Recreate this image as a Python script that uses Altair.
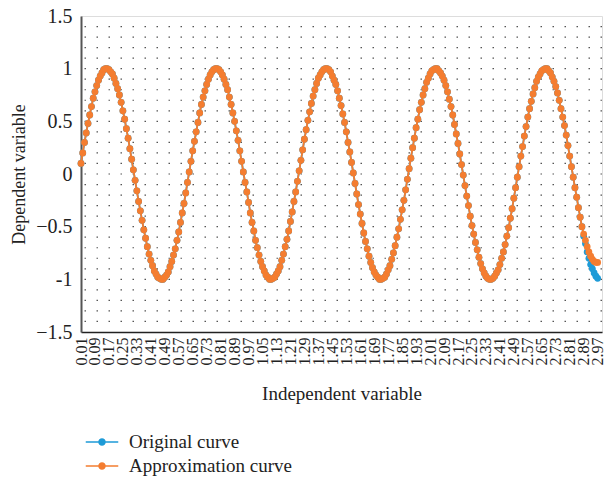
import altair as alt
import pandas as pd

# Independent variable (categories)
X_VALUES = [
    0.01, 0.02, 0.03, 0.04, 0.05, 0.06, 0.07, 0.08, 0.09, 0.10,
    0.11, 0.12, 0.13, 0.14, 0.15, 0.16, 0.17, 0.18, 0.19, 0.20,
    0.21, 0.22, 0.23, 0.24, 0.25, 0.26, 0.27, 0.28, 0.29, 0.30,
    0.31, 0.32, 0.33, 0.34, 0.35, 0.36, 0.37, 0.38, 0.39, 0.40,
    0.41, 0.42, 0.43, 0.44, 0.45, 0.46, 0.47, 0.48, 0.49, 0.50,
    0.51, 0.52, 0.53, 0.54, 0.55, 0.56, 0.57, 0.58, 0.59, 0.60,
    0.61, 0.62, 0.63, 0.64, 0.65, 0.66, 0.67, 0.68, 0.69, 0.70,
    0.71, 0.72, 0.73, 0.74, 0.75, 0.76, 0.77, 0.78, 0.79, 0.80,
    0.81, 0.82, 0.83, 0.84, 0.85, 0.86, 0.87, 0.88, 0.89, 0.90,
    0.91, 0.92, 0.93, 0.94, 0.95, 0.96, 0.97, 0.98, 0.99, 1.00,
    1.01, 1.02, 1.03, 1.04, 1.05, 1.06, 1.07, 1.08, 1.09, 1.10,
    1.11, 1.12, 1.13, 1.14, 1.15, 1.16, 1.17, 1.18, 1.19, 1.20,
    1.21, 1.22, 1.23, 1.24, 1.25, 1.26, 1.27, 1.28, 1.29, 1.30,
    1.31, 1.32, 1.33, 1.34, 1.35, 1.36, 1.37, 1.38, 1.39, 1.40,
    1.41, 1.42, 1.43, 1.44, 1.45, 1.46, 1.47, 1.48, 1.49, 1.50,
    1.51, 1.52, 1.53, 1.54, 1.55, 1.56, 1.57, 1.58, 1.59, 1.60,
    1.61, 1.62, 1.63, 1.64, 1.65, 1.66, 1.67, 1.68, 1.69, 1.70,
    1.71, 1.72, 1.73, 1.74, 1.75, 1.76, 1.77, 1.78, 1.79, 1.80,
    1.81, 1.82, 1.83, 1.84, 1.85, 1.86, 1.87, 1.88, 1.89, 1.90,
    1.91, 1.92, 1.93, 1.94, 1.95, 1.96, 1.97, 1.98, 1.99, 2.00,
    2.01, 2.02, 2.03, 2.04, 2.05, 2.06, 2.07, 2.08, 2.09, 2.10,
    2.11, 2.12, 2.13, 2.14, 2.15, 2.16, 2.17, 2.18, 2.19, 2.20,
    2.21, 2.22, 2.23, 2.24, 2.25, 2.26, 2.27, 2.28, 2.29, 2.30,
    2.31, 2.32, 2.33, 2.34, 2.35, 2.36, 2.37, 2.38, 2.39, 2.40,
    2.41, 2.42, 2.43, 2.44, 2.45, 2.46, 2.47, 2.48, 2.49, 2.50,
    2.51, 2.52, 2.53, 2.54, 2.55, 2.56, 2.57, 2.58, 2.59, 2.60,
    2.61, 2.62, 2.63, 2.64, 2.65, 2.66, 2.67, 2.68, 2.69, 2.70,
    2.71, 2.72, 2.73, 2.74, 2.75, 2.76, 2.77, 2.78, 2.79, 2.80,
    2.81, 2.82, 2.83, 2.84, 2.85, 2.86, 2.87, 2.88, 2.89, 2.90,
    2.91, 2.92, 2.93, 2.94, 2.95, 2.96, 2.97,
]

# Original curve
ORIGINAL = [
    0.10, 0.20, 0.30, 0.39, 0.48, 0.56, 0.64, 0.72, 0.78, 0.84,
    0.89, 0.93, 0.96, 0.99, 1.00, 1.00, 0.99, 0.97, 0.95, 0.91,
    0.86, 0.81, 0.75, 0.68, 0.60, 0.52, 0.43, 0.34, 0.24, 0.14,
    0.04, -0.06, -0.16, -0.26, -0.35, -0.44, -0.53, -0.61, -0.69, -0.76,
    -0.82, -0.87, -0.92, -0.95, -0.98, -0.99, -1.00, -1.00, -0.98, -0.96,
    -0.93, -0.88, -0.83, -0.77, -0.71, -0.63, -0.55, -0.46, -0.37, -0.28,
    -0.18, -0.08,
    0.02, 0.12, 0.22, 0.31, 0.40, 0.49, 0.58, 0.66, 0.73, 0.79,
    0.85, 0.90, 0.94, 0.97, 0.99, 1.00, 1.00, 0.99, 0.97, 0.94,
    0.90, 0.85, 0.80, 0.73, 0.66, 0.58, 0.50, 0.41, 0.32, 0.22,
    0.12, 0.02, -0.08, -0.17, -0.27, -0.37, -0.46, -0.54, -0.63, -0.70,
    -0.77, -0.83, -0.88, -0.92, -0.96, -0.98, -1.00, -1.00, -0.99, -0.98,
    -0.95, -0.92, -0.88, -0.82, -0.76, -0.69, -0.62, -0.54, -0.45, -0.36,
    -0.26, -0.17, -0.07,
    0.03, 0.13, 0.23, 0.33, 0.42, 0.51, 0.59, 0.67, 0.74, 0.80,
    0.86, 0.91, 0.94, 0.97, 0.99, 1.00, 1.00, 0.99, 0.97, 0.93,
    0.89, 0.85, 0.79, 0.72, 0.65, 0.57, 0.49, 0.40, 0.30, 0.21,
    0.11, 0.01, -0.09, -0.19, -0.29, -0.38, -0.47, -0.56, -0.64, -0.71,
    -0.78, -0.84, -0.89, -0.93, -0.96, -0.98, -1.00, -1.00, -0.99, -0.98,
    -0.95, -0.91, -0.87, -0.81, -0.75, -0.68, -0.60, -0.52, -0.43, -0.34,
    -0.25, -0.15, -0.05,
    0.05, 0.15, 0.25, 0.34, 0.44, 0.52, 0.61, 0.68, 0.75, 0.81,
    0.87, 0.91, 0.95, 0.98, 0.99, 1.00, 1.00, 0.98, 0.96, 0.93,
    0.89, 0.84, 0.78, 0.71, 0.64, 0.56, 0.47, 0.38, 0.29, 0.19,
    0.09, -0.01, -0.11, -0.21, -0.30, -0.40, -0.49, -0.57, -0.65, -0.72,
    -0.79, -0.85, -0.90, -0.94, -0.97, -0.99, -1.00, -1.00, -0.99, -0.97,
    -0.94, -0.91, -0.86, -0.80, -0.74, -0.67, -0.59, -0.51, -0.42, -0.33,
    -0.23, -0.13, -0.03,
    0.07, 0.17, 0.26, 0.36, 0.45, 0.54, 0.62, 0.69, 0.76, 0.82,
    0.88, 0.92, 0.95, 0.98, 0.99, 1.00, 1.00, 0.98, 0.96, 0.92,
    0.88, 0.83, 0.77, 0.70, 0.62, 0.54, 0.46, 0.37, 0.27, 0.17,
    0.07, -0.03, -0.13, -0.22, -0.32, -0.41, -0.50, -0.59, -0.66, -0.74,
    -0.80, -0.86, -0.90, -0.94, -0.97, -0.99,
]

# Approximation curve
APPROX = [
    0.10, 0.20, 0.30, 0.39, 0.48, 0.56, 0.64, 0.72, 0.78, 0.84,
    0.89, 0.93, 0.96, 0.99, 1.00, 1.00, 0.99, 0.97, 0.95, 0.91,
    0.86, 0.81, 0.75, 0.68, 0.60, 0.52, 0.43, 0.34, 0.24, 0.14,
    0.04, -0.06, -0.16, -0.26, -0.35, -0.44, -0.53, -0.61, -0.69, -0.76,
    -0.82, -0.87, -0.92, -0.95, -0.98, -0.99, -1.00, -1.00, -0.98, -0.96,
    -0.93, -0.88, -0.83, -0.77, -0.71, -0.63, -0.55, -0.46, -0.37, -0.28,
    -0.18, -0.08,
    0.02, 0.12, 0.22, 0.31, 0.40, 0.49, 0.58, 0.66, 0.73, 0.79,
    0.85, 0.90, 0.94, 0.97, 0.99, 1.00, 1.00, 0.99, 0.97, 0.94,
    0.90, 0.85, 0.80, 0.73, 0.66, 0.58, 0.50, 0.41, 0.32, 0.22,
    0.12, 0.02, -0.08, -0.17, -0.27, -0.37, -0.46, -0.54, -0.63, -0.70,
    -0.77, -0.83, -0.88, -0.92, -0.96, -0.98, -1.00, -1.00, -0.99, -0.98,
    -0.95, -0.92, -0.88, -0.82, -0.76, -0.69, -0.62, -0.54, -0.45, -0.36,
    -0.26, -0.17, -0.07,
    0.03, 0.13, 0.23, 0.33, 0.42, 0.51, 0.59, 0.67, 0.74, 0.80,
    0.86, 0.91, 0.94, 0.97, 0.99, 1.00, 1.00, 0.99, 0.97, 0.93,
    0.89, 0.85, 0.79, 0.72, 0.65, 0.57, 0.49, 0.40, 0.30, 0.21,
    0.11, 0.01, -0.09, -0.19, -0.29, -0.38, -0.47, -0.56, -0.64, -0.71,
    -0.78, -0.84, -0.89, -0.93, -0.96, -0.98, -1.00, -1.00, -0.99, -0.98,
    -0.95, -0.91, -0.87, -0.81, -0.75, -0.68, -0.60, -0.52, -0.43, -0.34,
    -0.25, -0.15, -0.05,
    0.05, 0.15, 0.25, 0.34, 0.44, 0.52, 0.61, 0.68, 0.75, 0.81,
    0.87, 0.91, 0.95, 0.98, 0.99, 1.00, 1.00, 0.98, 0.96, 0.93,
    0.89, 0.84, 0.78, 0.71, 0.64, 0.56, 0.47, 0.38, 0.29, 0.19,
    0.09, -0.01, -0.11, -0.21, -0.30, -0.40, -0.49, -0.57, -0.65, -0.72,
    -0.79, -0.85, -0.90, -0.94, -0.97, -0.99, -1.00, -1.00, -0.99, -0.97,
    -0.94, -0.91, -0.86, -0.80, -0.74, -0.67, -0.59, -0.51, -0.42, -0.33,
    -0.23, -0.13, -0.03,
    0.07, 0.17, 0.26, 0.36, 0.45, 0.54, 0.62, 0.69, 0.76, 0.82,
    0.88, 0.92, 0.95, 0.98, 0.99, 1.00, 1.00, 0.98, 0.96, 0.92,
    0.88, 0.83, 0.77, 0.70, 0.62, 0.54, 0.46, 0.37, 0.27, 0.17,
    0.07, -0.03, -0.13, -0.22, -0.32, -0.41, -0.50, -0.57, -0.63, -0.69,
    -0.74, -0.78, -0.81, -0.83, -0.84, -0.84,
]

SERIES = ["Original curve", "Approximation curve"]
COLORS = ["#1E9BD7", "#F47D30"]

X_TICKS = [0.01, 0.09, 0.17, 0.25, 0.33, 0.41, 0.49, 0.57, 0.65, 0.73,
           0.81, 0.89, 0.97, 1.05, 1.13, 1.21, 1.29, 1.37, 1.45, 1.53,
           1.61, 1.69, 1.77, 1.85, 1.93, 2.01, 2.09, 2.17, 2.25, 2.33,
           2.41, 2.49, 2.57, 2.65, 2.73, 2.81, 2.89, 2.97]
Y_TICKS = [-1.5, -1.0, -0.5, 0.0, 0.5, 1.0, 1.5]
GRID_Y = [-1.4, -1.3, -1.2, -1.1, -1.0, -0.9, -0.8, -0.7, -0.6, -0.5,
          -0.4, -0.3, -0.2, -0.1, 0.0, 0.1, 0.2, 0.3, 0.4, 0.5,
          0.6, 0.7, 0.8, 0.9, 1.0, 1.1, 1.2, 1.3, 1.4]

FONT = "Liberation Serif"

df = pd.DataFrame({
    "x": X_VALUES + X_VALUES,
    "y": ORIGINAL + APPROX,
    "series": [SERIES[0]] * len(X_VALUES) + [SERIES[1]] * len(X_VALUES),
})
grid_df = pd.DataFrame({"g": GRID_Y})

x_enc = alt.X(
    "x:Q",
    scale=alt.Scale(domain=[0.01, 2.995], nice=False, zero=False),
    axis=alt.Axis(
        values=X_TICKS, format=".2f", labelAngle=-90, ticks=False, grid=False,
        labelOverlap=False, labelFlush=False, labelFont=FONT, labelFontSize=16,
        labelColor="#222", labelPadding=5, domainColor="#222", domainWidth=1.5,
        title="Independent variable", titleFont=FONT, titleFontSize=19,
        titleFontWeight="normal", titleColor="#222", titlePadding=19,
    ),
)
y_enc = alt.Y(
    "y:Q",
    scale=alt.Scale(domain=[-1.5, 1.5], nice=False, zero=False),
    axis=alt.Axis(
        values=Y_TICKS, ticks=False, grid=False,
        labelExpr="datum.value < 0 ? (datum.value == -1 ? '-1' : '\u2212' + format(-datum.value, '')) : format(datum.value, '')",
        labelFont=FONT, labelFontSize=20, labelColor="#222", labelPadding=9,
        domainColor="#555", domainWidth=2,
        title="Dependent variable", titleFont=FONT, titleFontSize=18,
        titleFontWeight="normal", titleColor="#222", titlePadding=7,
    ),
)

LEGEND_PATH = "M-1.25,0L1.25,0M-0.23,0A0.23,0.23,0,1,1,0.23,0A0.23,0.23,0,1,1,-0.23,0Z"


def make_legend():
    return alt.Legend(
        title=None, orient="none", legendX=7, legendY=412, direction="vertical",
        symbolType=LEGEND_PATH, symbolSize=676, symbolStrokeWidth=1.5,
        symbolOpacity=1, labelFont=FONT, labelFontSize=19, labelLimit=400,
        labelColor="#222", labelOffset=13, rowPadding=0, padding=0,
    )


scale = alt.Scale(domain=SERIES, range=COLORS)
stroke_enc = alt.Stroke("series:N", scale=scale, legend=make_legend())
fill_enc = alt.Fill("series:N", scale=scale, legend=make_legend())

grid = alt.Chart(grid_df).mark_rule(
    color="#555", strokeWidth=1.2, strokeDash=[1.5, 10.5]
).encode(y=alt.Y("g:Q"))

base = alt.Chart(df)


def series_layer(name):
    sub = base.transform_filter(alt.datum.series == name)
    line = sub.mark_line(strokeWidth=1.8).encode(x=x_enc, y=y_enc, stroke=stroke_enc)
    pts = sub.mark_circle(size=46, opacity=1).encode(x=x_enc, y=y_enc, fill=fill_enc)
    return line + pts


chart = alt.layer(
    grid, series_layer(SERIES[0]), series_layer(SERIES[1])
).properties(
    width=521, height=316,
    autosize=alt.AutoSizeParams(type="none"),
    padding={"left": 81, "top": 16, "right": 3, "bottom": 148},
).configure_view(
    stroke="#333", strokeWidth=1.5
).configure(background="white")

chart.save("out.html", embed_options={"renderer": "svg", "actions": False})
